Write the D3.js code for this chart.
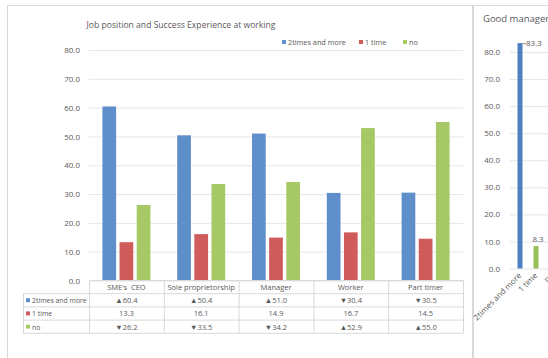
<!DOCTYPE html>
<html>
<head>
<meta charset="utf-8">
<script src="https://cdn.jsdelivr.net/npm/d3@7"></script>
<style>
  body { margin: 0; background: #fff; }
  svg { display: block; font-family: 'Open Sans', sans-serif; }
</style>
</head>
<body>
<svg id="chart" width="548" height="358"></svg>
<script>
// main chart data
const categories = ["SME\u2019s\u00a0\u00a0CEO", "Sole proprietorship", "Manager", "Worker", "Part timer"];
const seriesNames = ["2times and more", "1 time", "no"];
const twoPlus = [60.4, 50.4, 51.0, 30.4, 30.5];
const oneTime = [13.3, 16.1, 14.9, 16.7, 14.5];
const noExp = [26.2, 33.5, 34.2, 52.9, 55.0];
// arrows shown in the data table
const twoPlusMark = ["\u25B2", "\u25B2", "\u25B2", "\u25BC", "\u25BC"];
const oneTimeMark = ["", "", "", "", ""];
const noMark = ["\u25BC", "\u25BC", "\u25BC", "\u25B2", "\u25B2"];
const yTicks = [0, 10, 20, 30, 40, 50, 60, 70, 80];

// right hand chart (cut off)
const gmCategories = ["2times and more", "1 time", "no"];
const gmValues = [83.3, 8.3, 8.4];

const colors = ["#5f8fcb", "#d05b5b", "#a6c865"];
const gmColors = ["#4f7fc0", "#9bc05a", "#c9504d"];

const svg = d3.select('#chart');
const textCol = '#595959';
const gridCol = '#e6e6e6';
const tableCol = '#d9d9d9';

// panel borders
svg.append('rect').attr('x', 7.5).attr('y', 5.5).attr('width', 465).attr('height', 360)
  .attr('fill', '#fff').attr('stroke', '#d9d9d9');
svg.append('rect').attr('x', 473.5).attr('y', 5.5).attr('width', 100).attr('height', 360)
  .attr('fill', '#fff').attr('stroke', '#d9d9d9');

// ---------- main chart ----------
const plotLeft = 89, plotRight = 463;
const y = d3.scaleLinear().domain([0, 80]).range([280.5, 50]);
const x0 = d3.scaleBand().domain(categories).range([plotLeft, plotRight]);
const x1 = d3.scaleBand().domain(seriesNames).range([0, 48]).paddingInner(0.2);

svg.append('text').attr('x', 181).attr('y', 28).attr('text-anchor', 'middle')
  .attr('font-size', 8.6).attr('fill', textCol)
  .text('Job position and Success Experience at working');

// gridlines + y labels
const yAxis = svg.append('g').attr('transform', `translate(${plotLeft},0)`)
  .call(d3.axisLeft(y).tickValues(yTicks).tickFormat(d3.format('.1f'))
    .tickSize(-(plotRight - plotLeft)).tickPadding(9));
yAxis.select('.domain').remove();
yAxis.selectAll('line').attr('stroke', gridCol);
yAxis.selectAll('text').attr('fill', textCol).attr('font-size', 8)
  .attr('font-family', "'Open Sans', sans-serif");

// legend
const legendX = [282, 359, 403];
seriesNames.forEach((s, i) => {
  svg.append('rect').attr('x', legendX[i]).attr('y', 40).attr('width', 4).attr('height', 4)
    .attr('fill', colors[i]);
  svg.append('text').attr('x', legendX[i] + 6).attr('y', 45).attr('font-size', 7.3)
    .attr('fill', textCol).text(s);
});

// bars
const tableData = categories.map((c, i) => ({
  cat: c,
  vals: [twoPlus[i], oneTime[i], noExp[i]]
}));
const groups = svg.selectAll('g.grp').data(tableData).enter().append('g')
  .attr('class', 'grp')
  .attr('transform', d => `translate(${x0(d.cat) + x0.bandwidth() / 2 - 24},0)`);
groups.selectAll('rect')
  .data(d => d.vals.map((v, i) => ({ s: seriesNames[i], v: v, i: i })))
  .enter().append('rect')
  .attr('x', d => x1(d.s))
  .attr('y', d => y(d.v))
  .attr('width', x1.bandwidth())
  .attr('height', d => y(0) - y(d.v))
  .attr('fill', d => colors[d.i]);

// data table
const rowTop = 280.5, rowH = 13.2, legLeft = 23;
const rows = [
  { name: seriesNames[0], vals: twoPlus, marks: twoPlusMark },
  { name: seriesNames[1], vals: oneTime, marks: oneTimeMark },
  { name: seriesNames[2], vals: noExp, marks: noMark }
];
const tbl = svg.append('g').attr('stroke', tableCol).attr('fill', 'none');
// horizontal lines
tbl.append('line').attr('x1', plotLeft).attr('x2', plotRight).attr('y1', rowTop).attr('y2', rowTop);
for (let r = 1; r <= 4; r++) {
  tbl.append('line').attr('x1', legLeft).attr('x2', plotRight)
    .attr('y1', rowTop + r * rowH).attr('y2', rowTop + r * rowH);
}
// vertical lines
tbl.append('line').attr('x1', legLeft + 0.5).attr('x2', legLeft + 0.5)
  .attr('y1', rowTop + rowH).attr('y2', rowTop + 4 * rowH);
categories.forEach(c => {
  tbl.append('line').attr('x1', x0(c) + 0.5).attr('x2', x0(c) + 0.5)
    .attr('y1', rowTop).attr('y2', rowTop + 4 * rowH);
});
tbl.append('line').attr('x1', plotRight + 0.5).attr('x2', plotRight + 0.5)
  .attr('y1', rowTop).attr('y2', rowTop + 4 * rowH);

categories.forEach(c => {
  svg.append('text').attr('x', x0(c) + x0.bandwidth() / 2).attr('y', rowTop + 9.5)
    .attr('text-anchor', 'middle').attr('font-size', 7.5).attr('fill', textCol)
    .style('white-space', 'pre').text(c);
});
rows.forEach((row, r) => {
  const cy = rowTop + (r + 1) * rowH;
  svg.append('rect').attr('x', legLeft + 3).attr('y', cy + 4.5).attr('width', 4).attr('height', 4)
    .attr('fill', colors[r]);
  svg.append('text').attr('x', legLeft + 9).attr('y', cy + 9.5).attr('font-size', 6.9)
    .attr('fill', textCol).text(row.name);
  categories.forEach((c, i) => {
    svg.append('text').attr('x', x0(c) + x0.bandwidth() / 2).attr('y', cy + 9.5)
      .attr('text-anchor', 'middle').attr('font-size', 7.5).attr('fill', textCol)
      .text(row.marks[i] + row.vals[i].toFixed(1));
  });
});

// ---------- right chart: Good manager ----------
const gy = d3.scaleLinear().domain([0, 80]).range([268.5, 52]);
const gx = d3.scaleBand().domain(gmCategories).range([512, 560]);

svg.append('text').attr('x', 483).attr('y', 22).attr('font-size', 9.5)
  .attr('fill', textCol).text('Good manager');

const gAxis = svg.append('g').attr('transform', 'translate(510,0)')
  .call(d3.axisLeft(gy).tickValues(yTicks).tickFormat(d3.format('.1f'))
    .tickSize(-60).tickPadding(10));
gAxis.select('.domain').remove();
gAxis.selectAll('line').attr('stroke', gridCol);
gAxis.selectAll('text').attr('fill', textCol).attr('font-size', 8)
  .attr('font-family', "'Open Sans', sans-serif");

svg.selectAll('rect.gm').data(gmCategories).enter().append('rect')
  .attr('class', 'gm')
  .attr('x', d => gx(d) + gx.bandwidth() / 2 - 2.5)
  .attr('y', (d, i) => gy(gmValues[i]))
  .attr('width', 5)
  .attr('height', (d, i) => gy(0) - gy(gmValues[i]))
  .attr('fill', (d, i) => gmColors[i]);

// value labels
svg.append('line').attr('x1', gx(gmCategories[0]) + gx.bandwidth() / 2 + 2.5)
  .attr('x2', gx(gmCategories[0]) + gx.bandwidth() / 2 + 6)
  .attr('y1', gy(gmValues[0]) + 0.5).attr('y2', gy(gmValues[0]) + 0.5)
  .attr('stroke', '#8c8c8c');
svg.append('text').attr('x', gx(gmCategories[0]) + gx.bandwidth() / 2 + 6)
  .attr('y', gy(gmValues[0]) + 3).attr('font-size', 8).attr('fill', textCol)
  .text(gmValues[0].toFixed(1));
gmCategories.slice(1).forEach((c, k) => {
  svg.append('text').attr('x', gx(c) + gx.bandwidth() / 2 + 2)
    .attr('y', gy(gmValues[k + 1]) - 4).attr('text-anchor', 'middle')
    .attr('font-size', 8).attr('fill', textCol)
    .text(gmValues[k + 1].toFixed(1));
});

// rotated category labels
gmCategories.forEach(c => {
  svg.append('text')
    .attr('transform', `translate(${gx(c) + gx.bandwidth() / 2 + 2},276) rotate(-45)`)
    .attr('text-anchor', 'end').attr('font-size', 8).attr('fill', textCol)
    .text(c);
});
</script>
</body>
</html>
